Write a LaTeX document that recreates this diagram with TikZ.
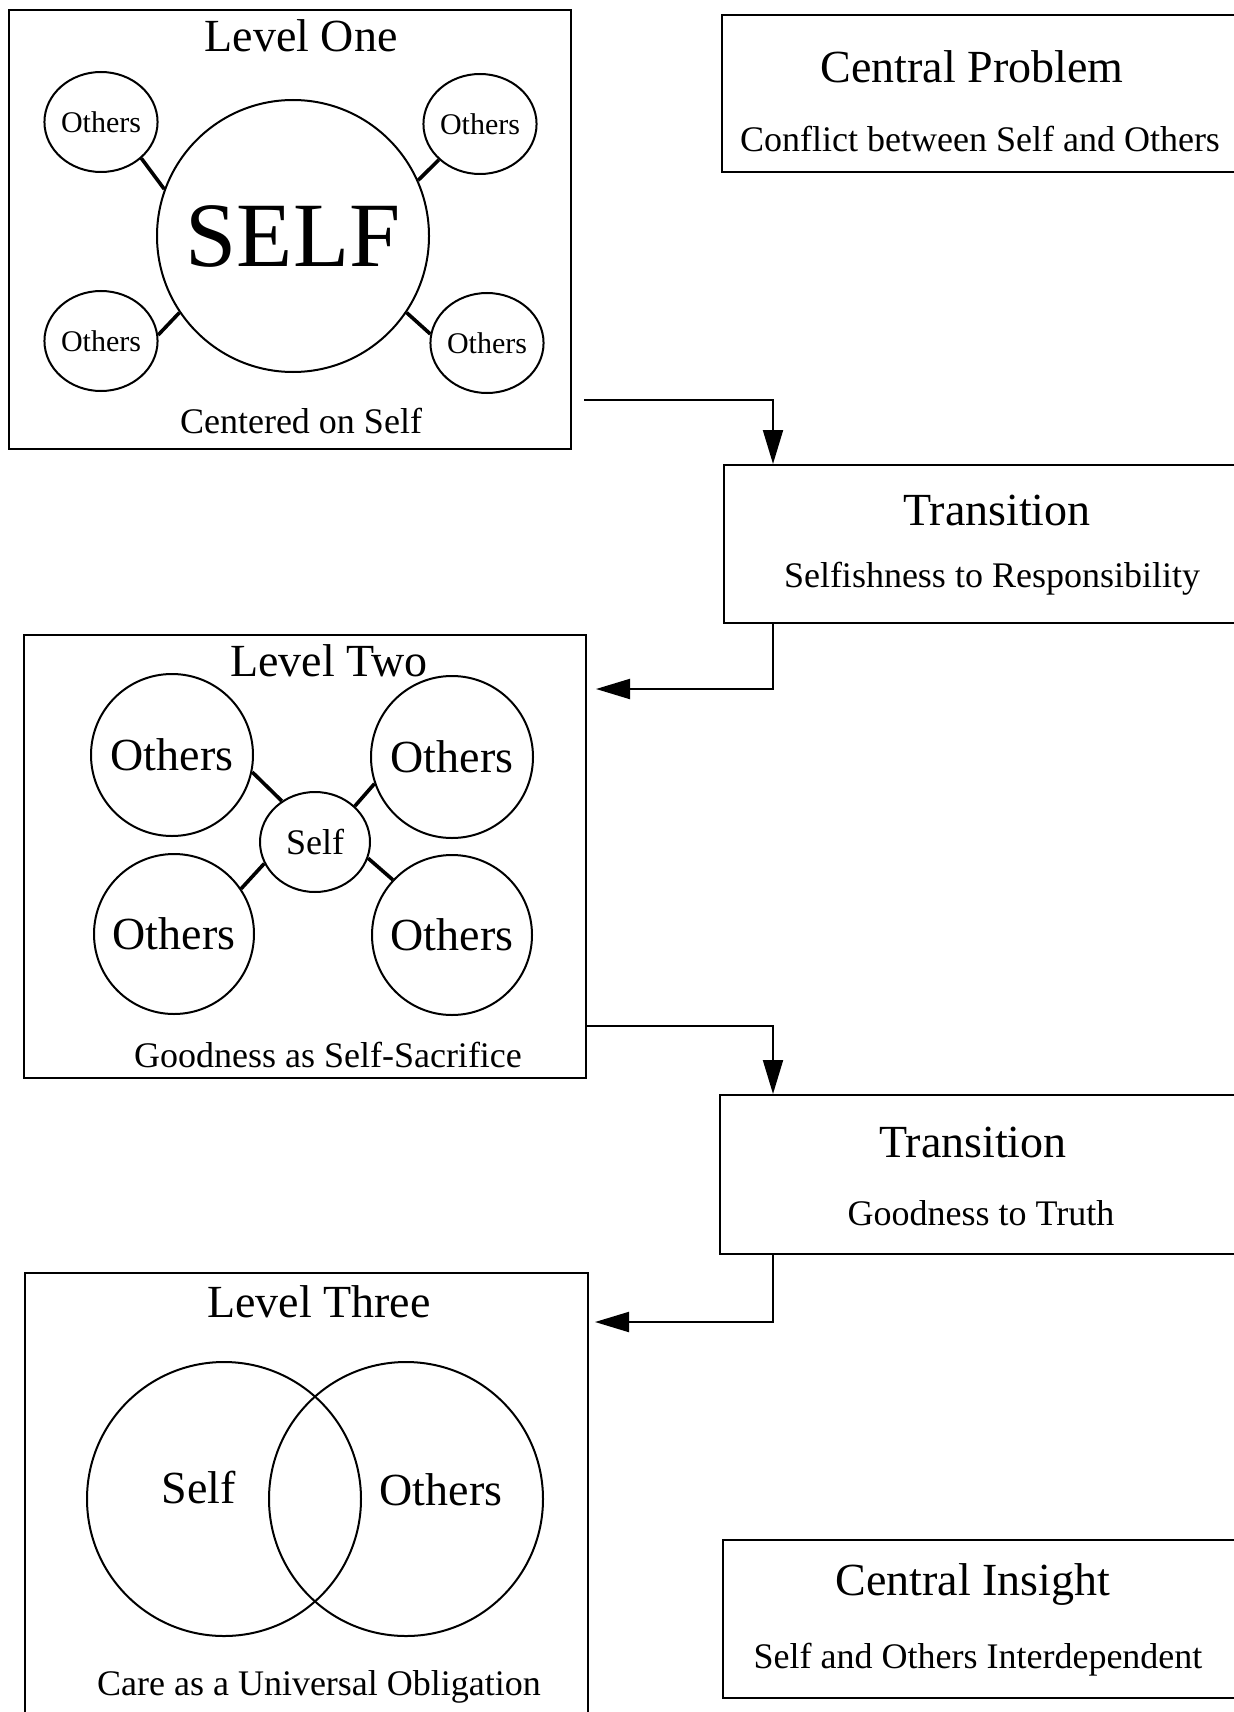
\documentclass[tikz,border=0pt]{standalone}
\usepackage{fontspec}
\setmainfont{Liberation Serif}
\usetikzlibrary{arrows.meta,shapes.geometric}

\begin{document}
\begin{tikzpicture}[x=.5pt,y=-.5pt,
    panel/.style={draw,line width=1.1pt,anchor=north west,inner sep=0pt},
    head/.style={anchor=base,inner sep=0pt,font=\fontsize{23}{27}\selectfont},
    sub/.style={anchor=base,inner sep=0pt,font=\fontsize{18}{21}\selectfont},
    ring/.style={draw,line width=1pt,ellipse,inner sep=0pt},
    tie/.style={line width=1.8pt},
    flow/.style={line width=1pt,-{Triangle[length=17pt,width=10pt]}}]
  \useasboundingbox (0,0) rectangle (1234,1712);
  \clip (0,0) rectangle (1234,1712);

  \node[panel,minimum width=281pt,minimum height=219.5pt] (lone) at (8,9) {};
  \node[head] (lonet) at (301,52) {Level One};
  \node[ring,circle,minimum size=136pt,font=\fontsize{46}{50}\selectfont] (selfa) at (293,236) {SELF};
  \node[ring,minimum width=56pt,minimum height=50pt,font=\fontsize{15}{17}\selectfont] (oa) at (101,122) {Others};
  \node[ring,minimum width=55pt,minimum height=50pt,font=\fontsize{15}{17}\selectfont] (ob) at (480,124) {Others};
  \node[ring,minimum width=55pt,minimum height=50pt,font=\fontsize{15}{17}\selectfont] (oc) at (101,341) {Others};
  \node[ring,minimum width=54pt,minimum height=50pt,font=\fontsize{15}{17}\selectfont] (od) at (487,343) {Others};
  \draw[tie] (oa.-42) -- (selfa.160);
  \draw[tie] (ob.221) -- (selfa.24);
  \draw[tie] (oc.6) -- (selfa.214);
  \draw[tie] (od.171) -- (selfa.-34);
  \node[sub] (lones) at (301,433) {Centered on Self};

  \node[panel,minimum width=281pt,minimum height=221.5pt] (ltwo) at (23,634) {};
  \node[head] (ltwot) at (329,676) {Level Two};
  \node[ring,circle,minimum size=81pt,font=\fontsize{23}{27}\selectfont] (oe) at (172,755) {Others};
  \node[ring,circle,minimum size=81pt,font=\fontsize{23}{27}\selectfont] (of) at (452,757) {Others};
  \node[ring,circle,minimum size=80pt,font=\fontsize{23}{27}\selectfont] (og) at (174,934) {Others};
  \node[ring,circle,minimum size=80pt,font=\fontsize{23}{27}\selectfont] (oh) at (452,935) {Others};
  \node[ring,minimum width=55pt,minimum height=50pt,font=\fontsize{18}{21}\selectfont] (selfb) at (315,842) {Self};
  \draw[tie] (oe.-12) -- (selfb.129);
  \draw[tie] (of.199) -- (selfb.42);
  \draw[tie] (selfb.203) -- (og.34);
  \draw[tie] (selfb.-17) -- (oh.137);
  \node[sub] (ltwos) at (328,1067) {Goodness as Self-Sacrifice};

  \node[panel,minimum width=281.5pt,minimum height=230pt] (lthree) at (24,1272) {};
  \node[head] (lthreet) at (319,1317) {Level Three};
  \node[ring,circle,minimum size=137pt] (vself) at (224,1499) {};
  \node[ring,circle,minimum size=137pt] (vothers) at (406,1499) {};
  \node[head] (vselft) at (199,1503) {Self};
  \node[head] (votherst) at (441,1505) {Others};
  \node[sub] (lthrees) at (319,1695) {Care as a Universal Obligation};

  \node[panel,minimum width=259.5pt,minimum height=78.5pt] (cp) at (721,14) {};
  \node[head] (cpt) at (972,83) {Central Problem};
  \node[sub] (cps) at (980,152) {Conflict between Self and Others};
  \node[panel,minimum width=258.5pt,minimum height=79pt] (tone) at (723,464) {};
  \node[head] (tonet) at (997,525) {Transition};
  \node[sub] (tones) at (992,587) {Selfishness to Responsibility};
  \node[panel,minimum width=260.5pt,minimum height=79.5pt] (ttwo) at (719,1094) {};
  \node[head] (ttwot) at (973,1157) {Transition};
  \node[sub] (ttwos) at (981,1225) {Goodness to Truth};
  \node[panel,minimum width=259pt,minimum height=79pt] (ci) at (722,1539) {};
  \node[head] (cit) at (973,1595) {Central Insight};
  \node[sub] (cis) at (978,1668) {Self and Others Interdependent};

  \coordinate (sa) at (584,400);
  \coordinate (ka) at (773,400);
  \draw[flow] (sa) -- (ka) -- (ka |- tone.north);
  \coordinate (kb) at (773,689);
  \coordinate (eb) at (596,689);
  \draw[flow] (kb |- tone.south) -- (kb) -- (eb);
  \coordinate (sc) at (587,1026);
  \coordinate (kc) at (773,1026);
  \draw[flow] (sc) -- (kc) -- (kc |- ttwo.north);
  \coordinate (kd) at (773,1322);
  \coordinate (ed) at (595,1322);
  \draw[flow] (kd |- ttwo.south) -- (kd) -- (ed);
\end{tikzpicture}
\end{document}
